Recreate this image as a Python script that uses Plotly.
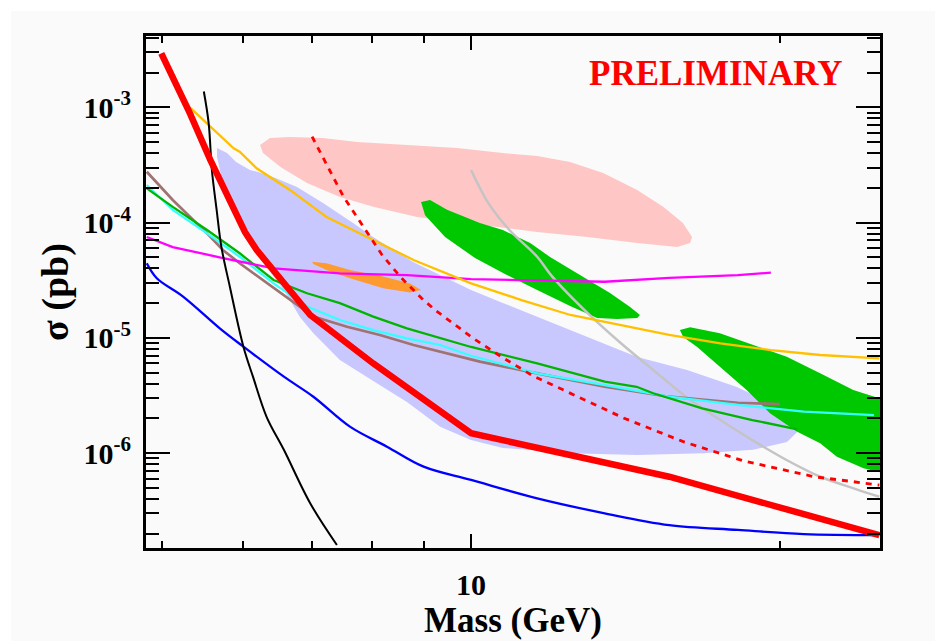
import plotly.graph_objects as go

# ---------------- data (Mass in GeV, sigma in pb) ----------------
red_x = [4.99, 5.32, 5.57, 6.02, 6.18, 6.97, 8.03, 10.0, 15.6, 25.0]
red_y = [2.94e-3, 8.9e-4, 3.5e-4, 8.3e-5, 5.8e-5, 1.58e-5, 6.0e-6, 1.49e-6, 6.25e-7, 1.95e-7]

reddash_x = [7.00, 7.51, 8.19, 8.53, 8.95, 9.22, 10.05, 10.7, 11.5, 12.5, 14.1, 16.1, 18.4, 21.6, 25.0]
reddash_y = [5.56e-4, 1.68e-4, 5.24e-5, 3.40e-5, 2.21e-5, 1.75e-5, 9.92e-6, 6.87e-6, 4.67e-6,
             3.31e-6, 2.01e-6, 1.26e-6, 8.61e-7, 6.25e-7, 5.30e-7]

black_x = [5.49, 5.55, 5.59, 5.65, 5.71, 5.82, 6.00, 6.13, 6.32, 6.57, 6.97, 7.40]
black_y = [1.37e-3, 7.26e-4, 2.86e-4, 1.29e-4, 6.18e-5, 2.78e-5, 8.39e-6, 4.61e-6, 2.07e-6,
           1.07e-6, 3.68e-7, 1.60e-7]

blue_x = [4.83, 4.94, 5.24, 5.69, 6.00, 6.57, 7.02, 7.62, 8.28, 8.99, 10.0, 11.6, 13.5, 15.6, 18.2, 21.1, 25.0]
blue_y = [4.44e-5, 3.29e-5, 2.28e-5, 1.21e-5, 8.39e-6, 4.61e-6, 3.09e-6, 1.70e-6, 1.14e-6, 7.64e-7,
          5.86e-7, 4.06e-7, 3.01e-7, 2.38e-7, 2.16e-7, 1.99e-7, 1.95e-7]

yellow_x = [5.32, 5.55, 5.87, 5.95, 6.18, 6.66, 7.23, 7.91, 8.79, 10.0, 11.2, 12.5, 14.0, 15.6, 17.5, 19.6, 21.9, 25.0]
yellow_y = [1.0e-3, 7.02e-4, 4.41e-4, 4.12e-4, 2.96e-4, 1.92e-4, 1.12e-4, 7.54e-5, 4.74e-5, 2.97e-5,
            2.13e-5, 1.58e-5, 1.29e-5, 1.06e-5, 8.98e-6, 7.85e-6, 7.11e-6, 6.65e-6]

magenta_x = [4.83, 5.12, 5.73, 6.42, 7.45, 8.66, 10.0, 13.5, 15.6, 18.2, 19.6]
magenta_y = [7.5e-5, 6.14e-5, 4.93e-5, 4.01e-5, 3.63e-5, 3.51e-5, 3.24e-5, 3.07e-5, 3.32e-5, 3.51e-5, 3.68e-5]

green_x = [4.83, 5.12, 5.53, 5.95, 6.42, 6.92, 7.45, 8.03, 8.66, 9.33, 10.0, 11.6, 13.5, 14.5, 15.05, 16.8, 18.8, 20.8]
green_y = [1.98e-4, 1.37e-4, 8.63e-5, 5.42e-5, 3.18e-5, 2.44e-5, 2.0e-5, 1.53e-5, 1.21e-5, 9.92e-6,
           8.34e-6, 6.02e-6, 4.17e-6, 3.77e-6, 3.31e-6, 2.45e-6, 1.94e-6, 1.61e-6]

cyan_x = [4.83, 5.12, 5.53, 5.95, 6.42, 6.92, 7.45, 8.03, 8.66, 9.33, 10.0, 11.6, 13.5, 15.6, 18.2, 21.1, 24.7]
cyan_y = [2.12e-4, 1.29e-4, 8.07e-5, 5.06e-5, 2.97e-5, 1.87e-5, 1.43e-5, 1.17e-5, 9.92e-6, 8.68e-6,
          7.0e-6, 4.93e-6, 3.90e-6, 3.09e-6, 2.62e-6, 2.29e-6, 2.14e-6]

brown_x = [4.83, 5.12, 5.53, 5.73, 5.95, 6.52, 7.02, 7.57, 8.15, 8.79, 9.47, 10.2, 11.6, 13.5, 15.6, 18.2, 20.0]
brown_y = [2.76e-4, 1.57e-4, 8.07e-5, 5.79e-5, 4.44e-5, 2.44e-5, 1.53e-5, 1.25e-5, 1.06e-5, 8.68e-6,
           7.35e-6, 6.22e-6, 4.93e-6, 3.77e-6, 3.09e-6, 2.74e-6, 2.67e-6]

gray_x = [10.0, 10.4, 10.9, 11.6, 12.0, 13.0, 14.0, 15.05, 16.2, 17.5, 18.8, 20.3, 21.9, 23.6, 25.0]
gray_y = [2.86e-4, 1.47e-4, 8.63e-5, 5.06e-5, 3.40e-5, 1.63e-5, 8.98e-6, 5.27e-6, 3.09e-6, 1.94e-6,
          1.30e-6, 8.73e-7, 6.25e-7, 4.96e-7, 4.19e-7]

lavender_x = [5.655, 5.783, 5.901, 6.089, 6.200, 6.412, 6.767, 7.174, 7.674, 8.026, 8.781, 10.0, 10.74,
              12.02, 13.45, 14.52, 16.24, 18.16, 19.56, 20.46, 20.79, 20.32, 18.83, 16.83, 14.52, 12.49,
              10.74, 10.0, 9.33, 8.66, 8.03, 7.45, 7.02, 6.81, 6.59, 6.30, 6.02, 5.85, 5.72, 5.655]
lavender_y = [4.44e-4, 4.01e-4, 3.35e-4, 2.86e-4, 2.75e-4, 2.49e-4, 2.04e-4, 1.48e-4, 9.92e-5, 7.50e-5,
              4.55e-5, 2.60e-5, 2.01e-5, 1.35e-5, 9.03e-6, 6.83e-6, 5.27e-6, 3.75e-6, 2.73e-6, 1.94e-6,
              1.53e-6, 1.25e-6, 1.07e-6, 1.00e-6, 9.65e-7, 1.00e-6, 1.11e-6, 1.30e-6, 1.70e-6, 2.78e-6,
              4.23e-6, 6.43e-6, 1.10e-5, 1.52e-5, 2.50e-5, 4.29e-5, 7.35e-5, 1.29e-4, 2.34e-4, 3.71e-4]

pink_x = [6.228, 6.369, 6.66, 7.17, 7.743, 8.66, 9.69, 10.74, 11.60, 12.49, 13.45, 14.52, 15.39, 16.09,
          16.42, 16.35, 15.88, 14.52, 12.98, 11.60, 10.2, 8.858, 8.03, 7.45, 6.92, 6.52, 6.27]
pink_y = [4.71e-4, 5.42e-4, 5.53e-4, 5.42e-4, 5.0e-4, 4.71e-4, 4.44e-4, 4.01e-4, 3.78e-4, 3.35e-4,
          2.69e-4, 1.92e-4, 1.37e-4, 9.92e-5, 7.50e-5, 6.65e-5, 6.14e-5, 6.65e-5, 7.50e-5, 8.29e-5,
          9.53e-5, 1.12e-4, 1.37e-4, 1.67e-4, 2.21e-4, 3.03e-4, 4.01e-4]

green1_x = [8.939, 9.121, 9.476, 10.2, 10.74, 11.42, 11.94, 12.86, 13.66, 14.29, 14.61, 14.52, 13.88,
            13.27, 12.49, 11.60, 10.79, 10.09, 9.434, 9.02]
green1_y = [1.51e-4, 1.57e-4, 1.29e-4, 9.92e-5, 8.63e-5, 6.65e-5, 5.03e-5, 3.37e-5, 2.45e-5, 1.85e-5,
            1.58e-5, 1.49e-5, 1.46e-5, 1.49e-5, 1.89e-5, 2.60e-5, 3.58e-5, 4.93e-5, 7.50e-5, 1.16e-4]

green2_x = [15.98, 16.35, 17.48, 18.83, 20.31, 21.89, 23.58, 25.3, 25.3, 24.13, 22.73, 21.89, 20.77,
            19.56, 18.56, 17.48, 16.60, 16.1]
green2_y = [1.17e-5, 1.24e-5, 1.10e-5, 8.68e-6, 6.87e-6, 4.93e-6, 3.53e-6, 2.90e-6, 6.7e-7, 7.39e-7,
            9.32e-7, 1.22e-6, 1.54e-6, 2.22e-6, 3.53e-6, 5.63e-6, 8.39e-6, 1.02e-5]

orange_x = [7.00, 7.23, 7.62, 8.21, 8.72, 8.94, 8.72, 8.21, 7.62, 7.23, 7.02]
orange_y = [4.58e-5, 4.44e-5, 3.88e-5, 3.40e-5, 2.97e-5, 2.60e-5, 2.47e-5, 2.69e-5, 3.29e-5, 3.88e-5, 4.38e-5]

x_major = [10]
x_major_text = ["10"]
x_minor = [5, 6, 7, 8, 9, 20]
y_major = [1e-6, 1e-5, 1e-4, 1e-3]
y_major_text = ["10<sup>-6</sup>", "10<sup>-5</sup>", "10<sup>-4</sup>", "10<sup>-3</sup>"]
y_minor = [k * 10.0 ** e for e in range(-7, -2) for k in range(2, 10)]

# ---------------- figure ----------------
fig = go.Figure()


def add_region(x, y, color):
    fig.add_trace(go.Scatter(x=x, y=y, mode="lines", fill="toself", fillcolor=color,
                             line=dict(width=0, color=color), hoverinfo="skip", showlegend=False))


def add_line(x, y, color, width, dash="solid", shape="linear"):
    fig.add_trace(go.Scatter(x=x, y=y, mode="lines",
                             line=dict(color=color, width=width, dash=dash, shape=shape),
                             showlegend=False))


add_region(lavender_x, lavender_y, "#c8c8ff")
add_region(pink_x, pink_y, "#ffc6c6")
add_region(orange_x, orange_y, "#ff9a30")
add_region(green1_x, green1_y, "#00c800")
add_region(green2_x, green2_y, "#00c800")

add_line(gray_x, gray_y, "#c4c4c4", 2.5, shape="spline")
add_line(brown_x, brown_y, "#a07272", 2.7)
add_line(cyan_x, cyan_y, "#33ffff", 2.3)
add_line(green_x, green_y, "#00b400", 2.3)
add_line(magenta_x, magenta_y, "#ff00ff", 2.3)
add_line(yellow_x, yellow_y, "#ffc000", 2.3)
add_line(blue_x, blue_y, "#0000ff", 2.3, shape="spline")
add_line(black_x, black_y, "#000000", 2.0, shape="spline")
add_line(reddash_x, reddash_y, "#ff0000", 2.8, dash="6px,6px")
add_line(red_x, red_y, "#ff0000", 6.5)

font_family = "Liberation Serif"

fig.update_layout(
    template="none",
    width=939, height=641,
    margin=dict(l=146, r=59, t=36, b=93, autoexpand=False),
    paper_bgcolor="white",
    plot_bgcolor="#fafafa",
    showlegend=False,
    font=dict(family=font_family, color="black"),
    xaxis=dict(
        type="log", range=[0.6832, 1.3986], automargin=False,
        tickmode="array", tickvals=x_major, ticktext=x_major_text,
        ticks="inside", ticklen=14, tickwidth=2, tickcolor="black",
        ticklabelstandoff=8,
        showline=True, linecolor="black", linewidth=3, mirror="allticks",
        showgrid=False, zeroline=False,
        tickfont=dict(family=font_family, size=30, weight="bold", color="black"),
        minor=dict(tickmode="array", tickvals=x_minor, ticks="inside", ticklen=7,
                   tickwidth=2, tickcolor="black", showgrid=False),
        title=dict(text="Mass (GeV)", standoff=5,
                   font=dict(family=font_family, size=35, weight="bold", color="black")),
    ),
    yaxis=dict(
        type="log", range=[-6.8222, -2.3816], automargin=False,
        tickmode="array", tickvals=y_major, ticktext=y_major_text,
        ticks="inside", ticklen=24, tickwidth=2, tickcolor="black",
        ticklabelstandoff=6,
        showline=True, linecolor="black", linewidth=3, mirror="allticks",
        showgrid=False, zeroline=False,
        tickfont=dict(family=font_family, size=30, weight="bold", color="black"),
        minor=dict(tickmode="array", tickvals=y_minor, ticks="inside", ticklen=13,
                   tickwidth=2, tickcolor="black", showgrid=False),
        title=dict(text="σ (pb)", standoff=4,
                   font=dict(family=font_family, size=38, weight="bold", color="black")),
    ),
    shapes=[dict(type="rect", xref="paper", yref="paper", layer="below",
                 x0=-0.1839, x1=1.0749, y0=-0.1816, y1=1.0488,
                 fillcolor="#fafafa", line=dict(width=0))],
    annotations=[dict(text="PRELIMINARY", xref="paper", yref="paper", x=0.9523, y=0.9277,
                      xanchor="right", yanchor="middle", showarrow=False,
                      font=dict(family=font_family, size=35, weight="bold", color="#ff0000"))],
)

fig.write_html("out.html", config={"displayModeBar": False},
               post_script="document.body.style.margin='0';")
